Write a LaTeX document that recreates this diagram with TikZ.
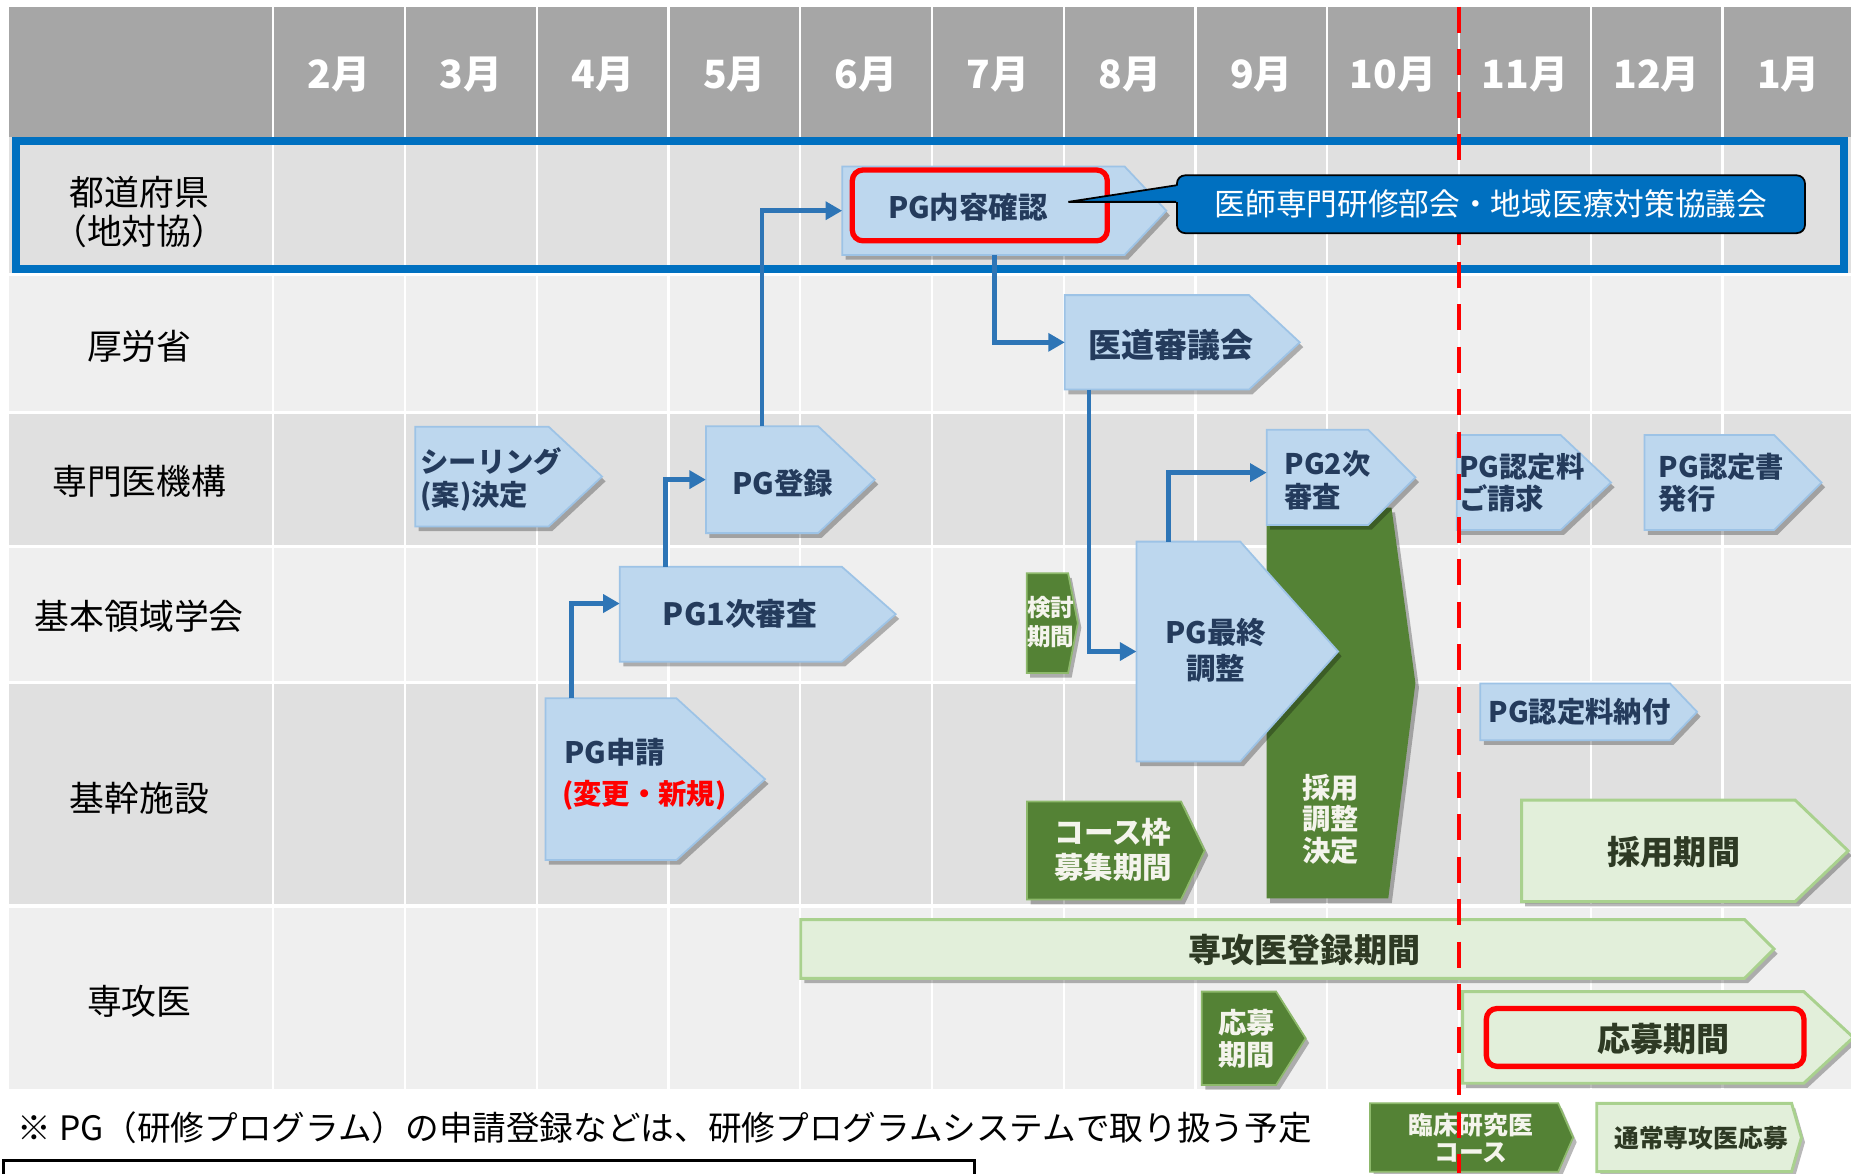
\documentclass[tikz,border=0pt]{standalone}
\usepackage{fontspec}
\setmainfont{Noto Sans CJK JP}
\usetikzlibrary{arrows.meta,shadows,calc}

\definecolor{hdr}{HTML}{A6A6A6}
\definecolor{rowd}{HTML}{E0E0E0}
\definecolor{rowl}{HTML}{EFEFEF}
\definecolor{frameblue}{HTML}{0070C0}
\definecolor{lblue}{HTML}{BDD7EE}
\definecolor{lblueedge}{HTML}{9DC3E6}
\definecolor{navytxt}{HTML}{243B5C}
\definecolor{dgreen}{HTML}{548235}
\definecolor{dgreenedge}{HTML}{8DB96B}
\definecolor{lgreen}{HTML}{E2EFDA}
\definecolor{lgreenedge}{HTML}{A9D18E}
\definecolor{gtxt}{HTML}{2E3A24}
\definecolor{connblue}{HTML}{2E75B6}
\definecolor{hlred}{HTML}{FF0000}
\definecolor{wtxt}{HTML}{F4F4EC}

\tikzset{
  shad/.style={drop shadow={shadow xshift=3pt,shadow yshift=-4pt,opacity=0.28,fill=black}},
  lb/.style={fill=lblue,draw=lblueedge,line width=1.5pt,shad},
  dg/.style={fill=dgreen,draw=dgreenedge,line width=1.5pt,shad},
  lg/.style={fill=lgreen,draw=lgreenedge,line width=2.5pt,shad},
  body/.style={inner sep=0pt,outer sep=0pt,rectangle},
  bt/.style 2 args={text=navytxt,align=center,inner sep=0pt,font=\bfseries\fontsize{#1}{#2}\selectfont},
  wt/.style 2 args={text=wtxt,align=center,inner sep=0pt,font=\bfseries\fontsize{#1}{#2}\selectfont},
  gt/.style 2 args={text=gtxt,align=center,inner sep=0pt,font=\bfseries\fontsize{#1}{#2}\selectfont},
  rl/.style={text=black,align=center,inner sep=0pt,font=\fontsize{29.5}{33}\selectfont},
  mon/.style={text=white,inner sep=0pt,font=\bfseries\fontsize{33}{36}\selectfont},
  cn/.style={draw=connblue,line width=4pt,-{Triangle[length=14pt,width=15pt]}},
  hl/.style={draw=hlred,line width=4.5pt,rounded corners=9pt,inner sep=0pt},
}

% #1 style, #2 name, #3 x1, #4 y1, #5 x2 (tip start), #6 x3 (tip), #7 y2
\newcommand\pent[7]{%
  \path[#1] (#3,#4) -- (#5,#4) -- (#6,{(#4+#7)/2}) -- (#5,#7) -- (#3,#7) -- cycle;
  \node[body,minimum width={(#5-#3)*1pt},minimum height={(#7-#4)*1pt}] (#2) at ({(#3+#5)/2},{(#4+#7)/2}) {};
}

\begin{document}
\begin{tikzpicture}[x=1pt,y=-1pt]
\useasboundingbox (0,0) rectangle (1568,994);
\clip (0,0) rectangle (1568,994);
\fill[white] (0,0) rectangle (1568,994);

% table rows
\fill[hdr]  (8,5.7)   rectangle (1568,115.8);
\fill[rowd] (8,115.8) rectangle (1568,232.5);
\fill[rowl] (8,232.5) rectangle (1568,349.5);
\fill[rowd] (8,349.5) rectangle (1568,463);
\fill[rowl] (8,463)   rectangle (1568,578);
\fill[rowd] (8,578)   rectangle (1568,767.5);
\fill[rowl] (8,767.5) rectangle (1568,922.5);
\foreach \k in {0,...,11}
  \draw[white,line width=2pt] ({231.5+111.6*\k},5.7) -- ({231.5+111.6*\k},922.5);
\foreach \yy in {232.5,349.5,463,578,767.5}
  \draw[white,line width=3pt] (8,\yy) -- (1568,\yy);

% blue frame
\draw[frameblue,line width=7pt] (13.5,119.3) rectangle (1562.2,228);

% month labels
\foreach \m [count=\i from 0] in {2,3,4,5,6,7,8,9,10,11,12,1}
  \node[mon] (m\i) at ({231.5+111.6*(\i+0.5)},63) {\m{}月};

% row labels
\node[rl] (r1) at (118,180) {都道府県\\（地対協）};
\node[rl] (r2) at (118,293) {厚労省};
\node[rl] (r3) at (118,408) {専門医機構};
\node[rl] (r4) at (118,522) {基本領域学会};
\node[rl] (r5) at (118,676) {基幹施設};
\node[rl] (r6) at (118,848) {専攻医};

% big green shape
\path[dg,draw=none] (1073,430) -- (1178.7,430) -- (1199,578.6) -- (1176,761) -- (1073,761) -- cycle;
\node[body,minimum width=126pt,minimum height=331pt] (saiyo) at (1136,595.5) {};
\node[wt={24}{27}] (saiyo-t) at (1127,694) {採用\\調整\\決定};

% light blue pentagons
\pent{lb}{ceiling}{351.7}{361.4}{464.7}{510}{446}
\pent{lb}{pgtoroku}{598}{361}{693}{741}{451.6}
\pent{lb}{pg1}{525}{480}{713}{758.7}{560.5}
\pent{lb}{pgshinsei}{462}{591.5}{573}{648}{728.5}
\pent{lb}{pgnaiyo}{713.4}{141}{952.6}{988}{216}
\pent{lb}{idou}{902}{250}{1058}{1101}{330}
\pent{lb}{pgsaishu}{962.7}{458.8}{1050.6}{1133.5}{645}
\pent{lb}{pg2}{1073}{364}{1159}{1199}{444.7}
\pent{lb}{seikyu}{1234}{368.5}{1322}{1364.7}{449}
\pent{lb}{hakkou}{1393}{368.5}{1502.8}{1543}{449}
\pent{lb}{nofu}{1254}{579}{1414.7}{1437.6}{627}

% dark green pentagons
\pent{dg}{kentou}{869.7}{485.5}{904.8}{913}{570}
\pent{dg}{course}{870}{679}{1000.5}{1020.5}{762}
\pent{dg}{oubo1}{1018}{840}{1081}{1106}{919}
\pent{dg}{legrin}{1160.5}{934.6}{1320}{1332.6}{992.5}

% light green pentagons
\pent{lg}{saiyokikan}{1289}{677.7}{1520.6}{1565.6}{763.8}
\pent{lg}{toroku}{678.3}{779}{1477.8}{1502.8}{828.7}
\pent{lg}{oubo2}{1239}{840}{1528}{1570}{917.6}
\pent{lg}{legtsujo}{1352.6}{934.6}{1517.7}{1526}{992.5}

% texts in shapes
\node[bt={25}{29}] (pgnaiyo-t) at (820,176) {PG内容確認};
\node[bt={28}{32}] (idou-t) at (992,292) {医道審議会};
\node[bt={24}{28},anchor=west,align=left] (ceiling-t) at (356,406) {シーリング\\(案)決定};
\node[bt={25}{29}] (pgtoroku-t) at (663,409) {PG登録};
\node[bt={26}{30}] (pg1-t) at (627,520) {PG1次審査};
\node[bt={25}{29},anchor=west] (pgshinsei-t) at (478,637) {PG申請};
\node[bt={24}{28},text=hlred,anchor=west] (henkou-t) at (476,674) {(変更・新規)};
\node[bt={25}{30}] (pgsaishu-t) at (1030,551) {PG最終\\調整};
\node[bt={24}{28},anchor=west,align=left] (pg2-t) at (1088,407) {PG2次\\審査};
\node[bt={24}{27},anchor=west,align=left] (seikyu-t) at (1236,409) {PG認定料\\ご請求};
\node[bt={24}{27},anchor=west,align=left] (hakkou-t) at (1405,409) {PG認定書\\発行};
\node[bt={24}{28}] (nofu-t) at (1338,603) {PG認定料納付};
\node[wt={20}{24}] (kentou-t) at (890,527) {検討\\期間};
\node[wt={25}{29}] (course-t) at (943,720) {コース枠\\募集期間};
\node[wt={24}{27}] (oubo1-t) at (1056,880) {応募\\期間};
\node[wt={21}{23}] (legrin-t) at (1246,964) {臨床研究医\\コース};
\node[gt={28}{32}] (saiyokikan-t) at (1418,722) {採用期間};
\node[gt={28}{32}] (toroku-t) at (1105,805) {専攻医登録期間};
\node[gt={28}{32}] (oubo2-t) at (1409,880) {応募期間};
\node[gt={21}{25}] (legtsujo-t) at (1441,964) {通常専攻医応募};

% connectors
\draw[cn] ([xshift=22pt]pgshinsei.north west) |- ([yshift=9pt]pg1.west);
\draw[cn] ([xshift=39pt]pg1.north west) |- (pgtoroku.west);
\draw[cn] ([xshift=47.6pt]pgtoroku.north west) |- (pgnaiyo.west);
\draw[cn] ([xshift=129pt]pgnaiyo.south west) |- (idou.west);
\draw[cn] ([xshift=20.5pt]idou.south west) |- (pgsaishu.west);
\draw[cn] ([xshift=27.3pt]pgsaishu.north west) |- ([yshift=4pt]pg2.west);

% red highlights
\node[hl,minimum width=216pt,minimum height=60pt] (hl1) at (830,174) {};
\node[hl,minimum width=269pt,minimum height=49pt] (hl2) at (1393.6,878.8) {};

% red dashed line
\coordinate (rtop) at (1236,5.7);
\coordinate (rbot) at (1236,994);
\draw[hlred,line width=4pt,dash pattern=on 22pt off 14pt] (rtop) -- (rbot);

% callout
\coordinate (calltip) at (905,171);
\node[fill=frameblue,draw=black,line width=1.5pt,rounded corners=7pt,minimum width=532pt,minimum height=49pt,inner sep=0pt,text=white,font=\fontsize{26}{30}\selectfont] (callout) at (1263,173) {医師専門研修部会・地域医療対策協議会};
\fill[frameblue] ([shift={(3pt,16pt)}]callout.west) -- (calltip) -- ([shift={(3pt,2pt)}]callout.west) -- cycle;
\draw[line width=1.5pt,line join=miter] ([yshift=16pt]callout.west) -- (calltip) -- ([yshift=2pt]callout.west);

% footnote
\node[anchor=west,inner sep=0pt,font=\fontsize{28.5}{31}\selectfont] (note) at (15,955) {※ PG（研修プログラム）の申請登録などは、研修プログラムシステムで取り扱う予定};

% source box (cut off)
\node[draw,line width=2.5pt,minimum width=823pt,minimum height=40pt,anchor=north west,inner sep=0pt] (src) at (1.5,981.5) {};
\end{tikzpicture}
\end{document}
